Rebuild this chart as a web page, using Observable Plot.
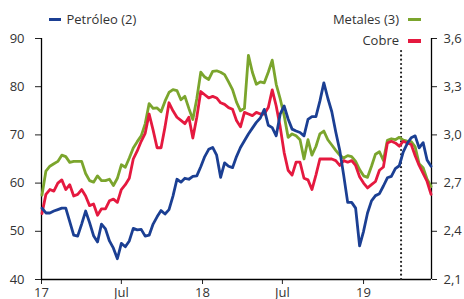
<!DOCTYPE html>
<html><head><meta charset="utf-8">
<script src="https://cdn.jsdelivr.net/npm/d3@7"></script>
<script src="https://cdn.jsdelivr.net/npm/@observablehq/plot@0.6"></script>
<style>
body{margin:0;background:#fff;}
#wrap{position:relative;width:464px;height:299px;overflow:hidden;font-family:"Open Sans",sans-serif;background:#fff;}
.lg{position:absolute;font-size:13px;color:#333;white-space:nowrap;line-height:13px;}
.sw{position:absolute;width:12px;height:3.5px;}
</style></head><body><div id="wrap"></div>
<script>
const dates = ["2017-01-02","2017-01-11","2017-01-20","2017-01-29","2017-02-07","2017-02-16","2017-02-25","2017-03-06","2017-03-15","2017-03-24",
"2017-04-02","2017-04-11","2017-04-20","2017-04-29","2017-05-08","2017-05-17","2017-05-26","2017-06-04","2017-06-13","2017-06-22",
"2017-07-01","2017-07-10","2017-07-19","2017-07-28","2017-08-06","2017-08-15","2017-08-24","2017-09-02","2017-09-11","2017-09-20",
"2017-09-29","2017-10-08","2017-10-17","2017-10-26","2017-11-04","2017-11-13","2017-11-22","2017-12-01","2017-12-10","2017-12-19",
"2017-12-28","2018-01-06","2018-01-15","2018-01-24","2018-02-02","2018-02-11","2018-02-20","2018-03-01","2018-03-10","2018-03-19",
"2018-03-28","2018-04-06","2018-04-15","2018-04-24","2018-05-03","2018-05-12","2018-05-21","2018-05-30","2018-06-08","2018-06-17",
"2018-06-26","2018-07-05","2018-07-14","2018-07-23","2018-08-01","2018-08-10","2018-08-19","2018-08-28","2018-09-06","2018-09-15",
"2018-09-24","2018-10-03","2018-10-12","2018-10-21","2018-10-30","2018-11-08","2018-11-17","2018-11-26","2018-12-05","2018-12-14",
"2018-12-23","2019-01-01","2019-01-10","2019-01-19","2019-01-28","2019-02-06","2019-02-15","2019-02-24","2019-03-05","2019-03-14",
"2019-03-23","2019-04-01","2019-04-10","2019-04-19","2019-04-28","2019-05-07","2019-05-16","2019-05-25","2019-06-03"];

const petroleo = [54.8,53.8,53.8,54.2,54.5,54.8,54.8,52,49.2,49,
51.5,54.2,51.8,49.1,47.8,51.5,50.5,48,46.5,44.3,
47.5,46.8,48,50.6,50.3,50.4,49,49.2,51.5,53,
54.3,53.6,54.5,57.3,60.8,60.2,61,60.8,61.4,61.5,
63.4,65.5,67,67.4,65.8,61.2,64.2,63.5,63.2,65.5,
67.4,68.8,70.2,71.4,72.6,73.5,75.3,72,71.5,69.8,
74.3,76,73.3,71.2,70.8,70.5,69.8,73.2,73.8,73.8,
77,80.8,77.6,74.8,70.6,66.8,61.6,56,56,54.8,
47,50,53.8,56.3,57.4,57.8,59.4,61.1,61.4,63,
63.6,66.5,68.2,69.4,69.8,67.3,68.4,64.8,63.5];

const metales = [57.5,62.5,63.5,64,64.5,65.8,65.5,64.3,64.5,64.5,
64.5,62,60.5,60.2,61.5,60.5,60.5,60.8,59.5,61,
63.8,63.3,65.2,67.3,68.6,69.8,72.3,76.5,75.5,75.6,
74.8,77,78.8,79.4,79.2,77.3,78,75.5,73.2,77.5,
83,82,81.5,83.2,83.3,83,82.5,81,79.4,76.8,
75,75.5,86.5,83,80.5,81,80.8,83,85.5,80.5,
77.5,74,69.5,70.2,69.8,69,65,69,65.8,67.6,
70.2,70.8,69,67.9,66.8,65.8,65.2,65.7,65.5,64.5,
62.8,61.5,61.2,63.5,66,66.5,64.7,68.9,69.2,69,
69.5,68.9,68.7,68.6,67.5,64,63.2,60.8,59.3];

const cobre = [2.51,2.63,2.66,2.65,2.70,2.72,2.66,2.69,2.62,2.63,
2.66,2.62,2.56,2.57,2.50,2.54,2.54,2.59,2.60,2.58,
2.66,2.69,2.73,2.85,2.90,2.96,3.01,3.13,3.03,2.92,
2.92,3.05,3.20,3.15,3.11,3.09,3.07,3.11,2.98,3.11,
3.27,3.25,3.23,3.24,3.23,3.20,3.19,3.17,3.16,3.09,
3.05,3.14,3.13,3.12,3.14,3.13,3.13,3.17,3.28,3.18,
3.05,2.89,2.78,2.75,2.83,2.83,2.73,2.72,2.66,2.75,
2.85,2.85,2.85,2.85,2.84,2.81,2.84,2.83,2.84,2.81,
2.74,2.70,2.67,2.69,2.71,2.78,2.80,2.95,2.96,2.95,
2.93,2.96,2.95,2.94,2.87,2.81,2.76,2.71,2.63];

const leftTicks = [40, 50, 60, 70, 80, 90];
const rightTicks = [2.1, 2.4, 2.7, 3.0, 3.3, 3.6];
const rightTickLabels = ["2,1", "2,4", "2,7", "3,0", "3,3", "3,6"];
const xTicks = ["2017-01-01", "2017-07-01", "2018-01-01", "2018-07-01", "2019-01-01"];
const xTickLabels = ["17", "Jul", "18", "Jul", "19"];
const xDomainDates = ["2017-01-01", "2019-06-04"];
const cutoffDate = "2019-03-27";
const cutoffSpan = [40, 87.5];
const seriesNames = ["Petróleo (2)", "Metales (3)", "Cobre"];
const colors = {petroleo: "#1b3f93", metales: "#7ba52d", cobre: "#e5193f"};

const parse = d3.utcParse("%Y-%m-%d");
const fmt = d3.utcFormat("%Y-%m-%d");
// right axis (US$/lb) mapped onto left axis scale
const toLeft = c => leftTicks[0] + (c - rightTicks[0]) * (leftTicks[leftTicks.length-1] - leftTicks[0]) / (rightTicks[rightTicks.length-1] - rightTicks[0]);

const rows = dates.map((d, i) => ({date: parse(d), petroleo: petroleo[i], metales: metales[i], cobre: toLeft(cobre[i])}));
const xDomain = xDomainDates.map(parse);
const rightPos = rightTicks.map(toLeft);

const chart = Plot.plot({
  width: 464, height: 299,
  marginTop: 38, marginBottom: 20, marginLeft: 41, marginRight: 33,
  style: {fontFamily: "'Open Sans', sans-serif", fontSize: "13px", color: "#222", background: "transparent"},
  x: {type: "utc", domain: xDomain},
  y: {domain: [leftTicks[0], leftTicks[leftTicks.length-1]]},
  marks: [
    Plot.axisY(leftTicks, {anchor: "left", tickSize: 6, tickPadding: 11, label: null, fill: "#333"}),
    Plot.axisY(rightPos, {anchor: "right", tickSize: 5, tickPadding: 7, label: null, fill: "#333",
      tickFormat: d => rightTickLabels[rightPos.findIndex(p => Math.abs(p - d) < 1e-6)]}),
    Plot.axisX(xTicks.map(parse), {tickSize: 5, tickPadding: 3, label: null, fill: "#333",
      tickFormat: d => xTickLabels[xTicks.indexOf(fmt(d))]}),
    Plot.ruleX(xDomain, {stroke: "#000", strokeWidth: 1.3}),
    Plot.ruleY([leftTicks[0]], {stroke: "#000", strokeWidth: 1.3}),
    Plot.ruleX([parse(cutoffDate)], {y1: cutoffSpan[0], y2: cutoffSpan[1], stroke: "#222", strokeWidth: 2.2, strokeDasharray: "0,4.3", strokeLinecap: "round"}),
    Plot.lineY(rows, {x: "date", y: "metales", stroke: colors.metales, strokeWidth: 2.8, strokeLinejoin: "round"}),
    Plot.lineY(rows, {x: "date", y: "cobre", stroke: colors.cobre, strokeWidth: 2.8, strokeLinejoin: "round"}),
    Plot.lineY(rows, {x: "date", y: "petroleo", stroke: colors.petroleo, strokeWidth: 2.8, strokeLinejoin: "round"})
  ]
});
chart.style.position = "absolute";
chart.style.left = "0px";
chart.style.top = "0px";
const wrap = document.getElementById("wrap");
wrap.appendChild(chart);

function addSwatch(left, top, color, w) {
  const s = document.createElement("div");
  s.className = "sw"; s.style.left = left + "px"; s.style.top = top + "px"; s.style.width = w + "px"; s.style.background = color;
  wrap.appendChild(s);
}
function addLabel(text, top, left, right) {
  const t = document.createElement("div");
  t.className = "lg"; t.textContent = text; t.style.top = top + "px";
  if (left != null) t.style.left = left + "px"; else t.style.right = right + "px";
  wrap.appendChild(t);
}
addSwatch(49, 17.5, colors.petroleo, 12);
addLabel(seriesNames[0], 12.5, 66.5, null);
addLabel(seriesNames[1], 12.5, null, 65);
addSwatch(408, 17.5, colors.metales, 13);
addLabel(seriesNames[2], 34, null, 65);
addSwatch(408, 39.3, colors.cobre, 13);
</script>
</body></html>
